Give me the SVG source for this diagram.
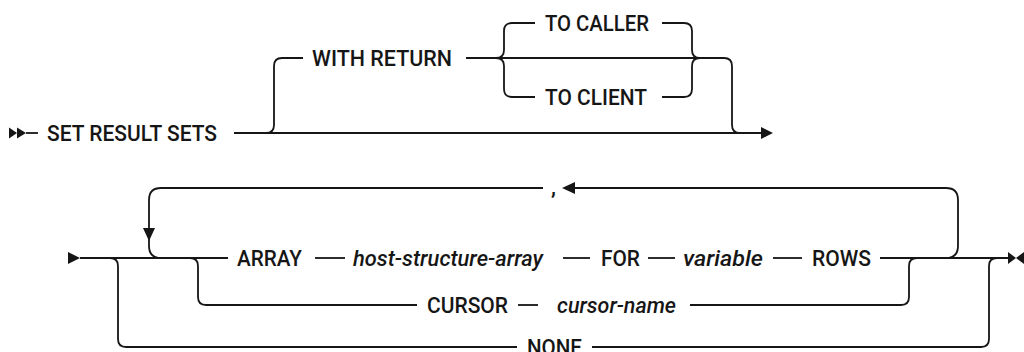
<svg xmlns="http://www.w3.org/2000/svg" width="1024" height="352" viewBox="0 0 1024 352">
<style>
.t{font-family:Roboto,"Liberation Sans",sans-serif;font-size:22px;font-weight:500;fill:#161616}
.i{font-style:italic}
.c{fill:none;stroke:#161616;stroke-width:1.8}
.h{fill:#161616;stroke:none}
</style>
<rect width="1024" height="352" fill="#ffffff"/>
<g id="connectors">
<polygon class="h" points="9,127.5 17,133 9,138.5"/>
<polygon class="h" points="17,127.5 26,133 17,138.5"/>
<path class="c" d="M26 133 H38"/>
<path class="c" d="M234 133 H762"/>
<polygon class="h" points="761,127 773,133 761,139"/>
<path class="c" d="M266 133 Q274 133 274 125 V66 Q274 58 282 58 H303"/>
<path class="c" d="M466 58 H724 Q732 58 732 66 V125 Q732 133 740 133"/>
<path class="c" d="M496 58 Q504 58 504 50 V31 Q504 23 512 23 H535"/>
<path class="c" d="M662 23 H684 Q692 23 692 31 V50 Q692 58 700 58"/>
<path class="c" d="M496 58 Q504 58 504 66 V89 Q504 97 512 97 H535"/>
<path class="c" d="M662 97 H684 Q692 97 692 89 V66 Q692 58 700 58"/>
<polygon class="h" points="68,252 80,258 68,264"/>
<path class="c" d="M80 258 H228"/>
<path class="c" d="M161 258 Q149 258 149 246 V200 Q149 188 161 188 H543"/>
<polygon class="h" points="143,228 155,228 149,241"/>
<path class="c" d="M574 188 H946 Q958 188 958 200 V246 Q958 258 946 258"/>
<polygon class="h" points="575,182 575,194 562,188"/>
<path class="c" d="M315 258 H345"/>
<path class="c" d="M563 258 H590"/>
<path class="c" d="M648 258 H675"/>
<path class="c" d="M773 258 H802"/>
<path class="c" d="M880 258 H1009"/>
<path class="c" d="M190 258 Q198 258 198 266 V297 Q198 305 206 305 H417"/>
<path class="c" d="M518 305 H538"/>
<path class="c" d="M690 305 H901 Q909 305 909 297 V266 Q909 258 917 258"/>
<path class="c" d="M110 258 Q118 258 118 266 V339 Q118 347 126 347 H517"/>
<path class="c" d="M592 347 H981 Q989 347 989 339 V266 Q989 258 997 258"/>
<polygon class="h" points="1008,252 1016,258 1008,264"/>
<polygon class="h" points="1024,252 1016,258 1024,264"/>
</g>
<g id="n-set"><text class="t" x="47" y="140.5" textLength="170" lengthAdjust="spacingAndGlyphs">SET RESULT SETS</text></g>
<g id="n-withreturn"><text class="t" x="312" y="65.5" textLength="140" lengthAdjust="spacingAndGlyphs">WITH RETURN</text></g>
<g id="n-tocaller"><text class="t" x="545" y="30.5" textLength="104" lengthAdjust="spacingAndGlyphs">TO CALLER</text></g>
<g id="n-toclient"><text class="t" x="545" y="104.5" textLength="102" lengthAdjust="spacingAndGlyphs">TO CLIENT</text></g>
<g id="n-comma"><text class="t" x="551" y="195">,</text></g>
<g id="n-array"><text class="t" x="237" y="265.5" textLength="65" lengthAdjust="spacingAndGlyphs">ARRAY</text></g>
<g id="n-hsa"><text class="t i" x="353" y="265.5" textLength="190" lengthAdjust="spacingAndGlyphs">host-structure-array</text></g>
<g id="n-for"><text class="t" x="601" y="265.5" textLength="39" lengthAdjust="spacingAndGlyphs">FOR</text></g>
<g id="n-variable"><text class="t i" x="683" y="265.5" textLength="80" lengthAdjust="spacingAndGlyphs">variable</text></g>
<g id="n-rows"><text class="t" x="812" y="265.5" textLength="59" lengthAdjust="spacingAndGlyphs">ROWS</text></g>
<g id="n-cursor"><text class="t" x="427" y="312.5" textLength="81" lengthAdjust="spacingAndGlyphs">CURSOR</text></g>
<g id="n-cursorname"><text class="t i" x="557" y="312.5" textLength="119" lengthAdjust="spacingAndGlyphs">cursor-name</text></g>
<g id="n-none"><text class="t" x="527" y="354.5" textLength="55" lengthAdjust="spacingAndGlyphs">NONE</text></g>
</svg>
